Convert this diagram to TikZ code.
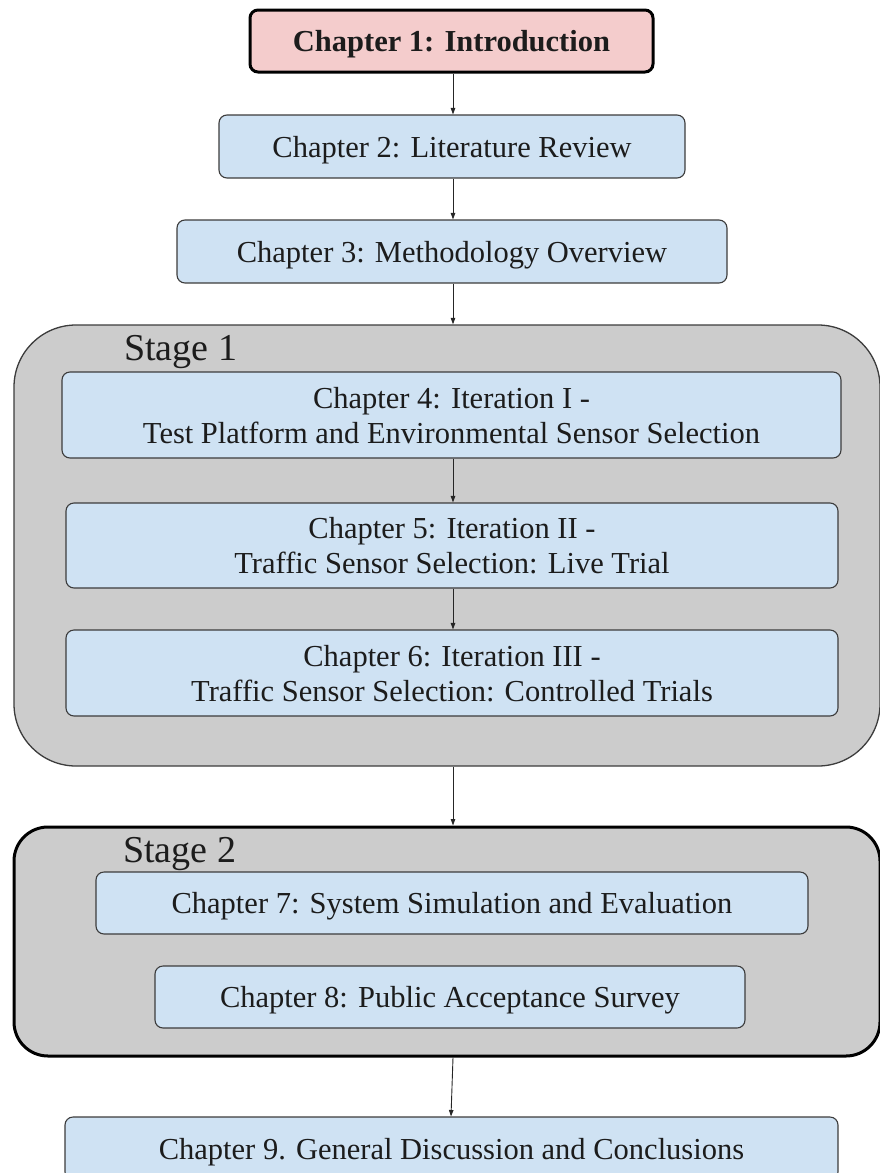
\documentclass[tikz,border=0pt]{standalone}
\usepackage{fontspec}
\setmainfont{Liberation Serif}
\usetikzlibrary{arrows.meta}
\definecolor{introfill}{HTML}{F4CCCC}
\definecolor{chapfill}{HTML}{CFE2F3}
\definecolor{stagefill}{HTML}{CCCCCC}
\definecolor{edgegray}{HTML}{3C3C3C}
\definecolor{ink}{HTML}{1C1C1C}

\begin{document}
\begin{tikzpicture}[x=1pt,y=-1pt,
  chapbox/.style={draw=edgegray, line width=1.1pt, fill=chapfill,
    rounded corners=8pt, inner sep=0pt, align=center, text=ink,
    text depth=0pt, font=\fontsize{30.5}{35}\selectfont},
  introbox/.style={chapbox, draw=black, line width=3pt, fill=introfill,
    font=\fontsize{30.5}{35}\selectfont\bfseries},
  stageone/.style={draw=edgegray, line width=1.3pt, fill=stagefill,
    rounded corners=62pt, inner sep=0pt},
  stagetwo/.style={draw=black, line width=3pt, fill=stagefill,
    rounded corners=34pt, inner sep=0pt},
  stagelabel/.style={inner sep=0pt, anchor=base west, text=ink,
    font=\fontsize{38}{42}\selectfont},
  flow/.style={draw=black!85, line width=0.9pt,
    -{Triangle[length=6.5pt,width=4.5pt]}}
]
\clip (0,0) rectangle (880,1173);

% stage containers
\node[stageone, minimum width=866pt, minimum height=441pt] (s1) at (447,545.5) {};
\node[stagetwo, minimum width=866pt, minimum height=229pt] (s2) at (447,941.5) {};
\node[stagelabel] (s1lab) at (124,360) {Stage 1};
\node[stagelabel] (s2lab) at (123,862) {Stage 2};

% chapters
\node[introbox, minimum width=403pt, minimum height=62pt] (ch1) at (451.5,41) {Chapter 1: Introduction};
\node[chapbox, minimum width=466pt, minimum height=63pt] (ch2) at (452,146.5) {Chapter 2: Literature Review};
\node[chapbox, minimum width=550pt, minimum height=63pt] (ch3) at (452,251.5) {Chapter 3: Methodology Overview};
\node[chapbox, minimum width=779pt, minimum height=86pt] (ch4) at (451.5,415) {Chapter 4: Iteration I -\\Test Platform and Environmental Sensor Selection};
\node[chapbox, minimum width=772pt, minimum height=85pt] (ch5) at (452,545.5) {Chapter 5: Iteration II -\\Traffic Sensor Selection: Live Trial};
\node[chapbox, minimum width=772pt, minimum height=86pt] (ch6) at (452,673) {Chapter 6: Iteration III -\\Traffic Sensor Selection: Controlled Trials};
\node[chapbox, minimum width=712pt, minimum height=62pt] (ch7) at (452,903) {Chapter 7: System Simulation and Evaluation};
\node[chapbox, minimum width=590pt, minimum height=62pt] (ch8) at (450,997) {Chapter 8: Public Acceptance Survey};
\node[chapbox, minimum width=773pt, minimum height=63pt] (ch9) at (451.5,1148.5) {Chapter 9. General Discussion and Conclusions};

% connectors
\draw[flow] (ch1.south -| 453,0) -- (ch2.north -| 453,0);
\draw[flow] (ch2.south -| 453,0) -- (ch3.north -| 453,0);
\draw[flow] (ch3.south -| 453,0) -- (s1.north -| 453,0);
\draw[flow] (ch4.south -| 453,0) -- (ch5.north -| 453,0);
\draw[flow] (ch5.south -| 453,0) -- (ch6.north -| 453,0);
\draw[flow] (s1.south -| 453,0) -- (s2.north -| 453,0);
\draw[flow] (s2.south -| 453,0) -- (ch9.north -| 451,0);
\end{tikzpicture}
\end{document}
